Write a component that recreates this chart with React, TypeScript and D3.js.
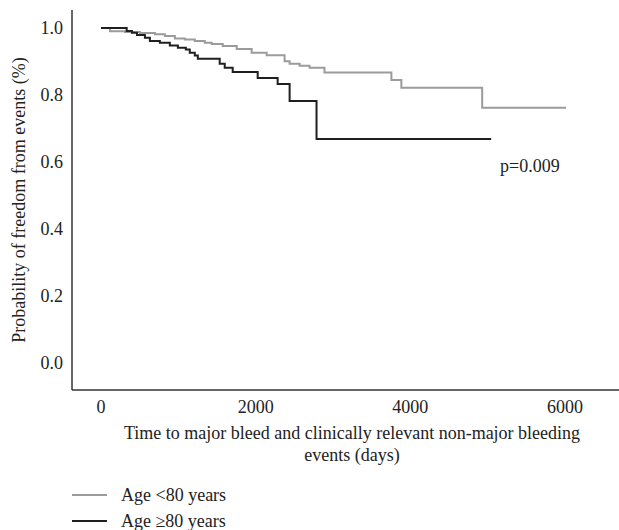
import { useEffect, useRef } from "react";
import * as d3 from "d3";

// Kaplan-Meier estimates: [day, survival after step]
const ageUnder80: [number, number][] = [
  [0, 1.0], [116, 0.99], [310, 0.988], [503, 0.985], [697, 0.981],
  [826, 0.976], [955, 0.969], [1084, 0.966], [1213, 0.961], [1342, 0.956],
  [1432, 0.952], [1574, 0.946], [1755, 0.937], [1948, 0.926], [2142, 0.919],
  [2374, 0.901], [2439, 0.893], [2568, 0.887], [2697, 0.881], [2890, 0.867],
  [3755, 0.845], [3884, 0.822], [4929, 0.762], [6013, 0.762],
];

const age80Plus: [number, number][] = [
  [0, 1.0], [332, 0.991], [400, 0.986], [465, 0.979], [568, 0.971],
  [632, 0.961], [761, 0.956], [890, 0.948], [994, 0.941], [1097, 0.936],
  [1148, 0.926], [1213, 0.918], [1252, 0.908], [1535, 0.893], [1600, 0.881],
  [1703, 0.869], [2026, 0.851], [2284, 0.833], [2439, 0.782], [2787, 0.669],
  [5045, 0.669],
];

const xTicks = [0, 2000, 4000, 6000];
const yTicks = [0, 0.2, 0.4, 0.6, 0.8, 1.0];
const legendLabels = ["Age <80 years", "Age \u226580 years"];
const seriesColors = ["#9b9b9b", "#1f1f1f"];
const pValueLabel = "p=0.009";

const FONT = "'Liberation Serif', 'Times New Roman', serif";
const FS = 18;

const App = () => {
  const svgRef = useRef<SVGSVGElement | null>(null);

  useEffect(() => {
    document.body.style.margin = "0";
    const svg = d3.select(svgRef.current);
    svg.selectAll("*").remove();

    const width = 619;
    const height = 530;
    const axisX = 72;
    const axisY = 390;

    const x = d3.scaleLinear().domain([0, 6000]).range([101, 565]);
    const y = d3.scaleLinear().domain([0, 1]).range([363, 28]);

    svg.attr("width", width).attr("height", height);

    const txt = (sel: any) =>
      sel.attr("font-family", FONT).attr("font-size", FS).attr("fill", "#222");

    // ----- Axes (lines only, no tick marks) ----------------------------
    svg
      .append("line")
      .attr("x1", axisX)
      .attr("x2", axisX)
      .attr("y1", 10)
      .attr("y2", axisY)
      .attr("stroke", "#333")
      .attr("stroke-width", 1.5);

    svg
      .append("line")
      .attr("x1", axisX)
      .attr("x2", width)
      .attr("y1", axisY)
      .attr("y2", axisY)
      .attr("stroke", "#333")
      .attr("stroke-width", 1.5);

    svg
      .append("g")
      .selectAll("text")
      .data(yTicks)
      .join("text")
      .attr("x", 63)
      .attr("y", (d) => y(d))
      .attr("dy", "0.35em")
      .attr("text-anchor", "end")
      .call(txt)
      .text((d) => d.toFixed(1));

    svg
      .append("g")
      .selectAll("text")
      .data(xTicks)
      .join("text")
      .attr("x", (d) => x(d))
      .attr("y", axisY + 17)
      .attr("dy", "0.35em")
      .attr("text-anchor", "middle")
      .call(txt)
      .text((d) => String(d));

    // ----- Axis titles -------------------------------------------------
    svg
      .append("text")
      .attr("transform", `translate(19,200) rotate(-90)`)
      .attr("dy", "0.35em")
      .attr("text-anchor", "middle")
      .call(txt)
      .text("Probability of freedom from events (%)");

    const xTitle = svg.append("text").attr("text-anchor", "middle").call(txt);
    xTitle
      .append("tspan")
      .attr("x", 352)
      .attr("y", axisY + 43)
      .attr("dy", "0.35em")
      .text("Time to major bleed and clinically relevant non-major bleeding");
    xTitle
      .append("tspan")
      .attr("x", 352)
      .attr("y", axisY + 65)
      .attr("dy", "0.35em")
      .text("events (days)");

    // ----- Survival curves ---------------------------------------------
    const line = d3
      .line<[number, number]>()
      .x((d) => x(d[0]))
      .y((d) => y(d[1]))
      .curve(d3.curveStepAfter);

    [ageUnder80, age80Plus].forEach((series, i) => {
      svg
        .append("path")
        .datum(series)
        .attr("fill", "none")
        .attr("stroke", seriesColors[i])
        .attr("stroke-width", 2)
        .attr("d", line);
    });

    svg
      .append("text")
      .attr("x", 500)
      .attr("y", 166)
      .attr("dy", "0.35em")
      .call(txt)
      .text(pValueLabel);

    // ----- Legend ------------------------------------------------------
    const legend = svg.append("g");
    legendLabels.forEach((label, i) => {
      const ly = 495 + i * 26;
      legend
        .append("line")
        .attr("x1", 72)
        .attr("x2", 107)
        .attr("y1", ly)
        .attr("y2", ly)
        .attr("stroke", seriesColors[i])
        .attr("stroke-width", 2);
      legend
        .append("text")
        .attr("x", 121)
        .attr("y", ly)
        .attr("dy", "0.35em")
        .call(txt)
        .text(label);
    });
  }, []);

  return <svg ref={svgRef} style={{ display: "block" }} />;
};

export default App;
